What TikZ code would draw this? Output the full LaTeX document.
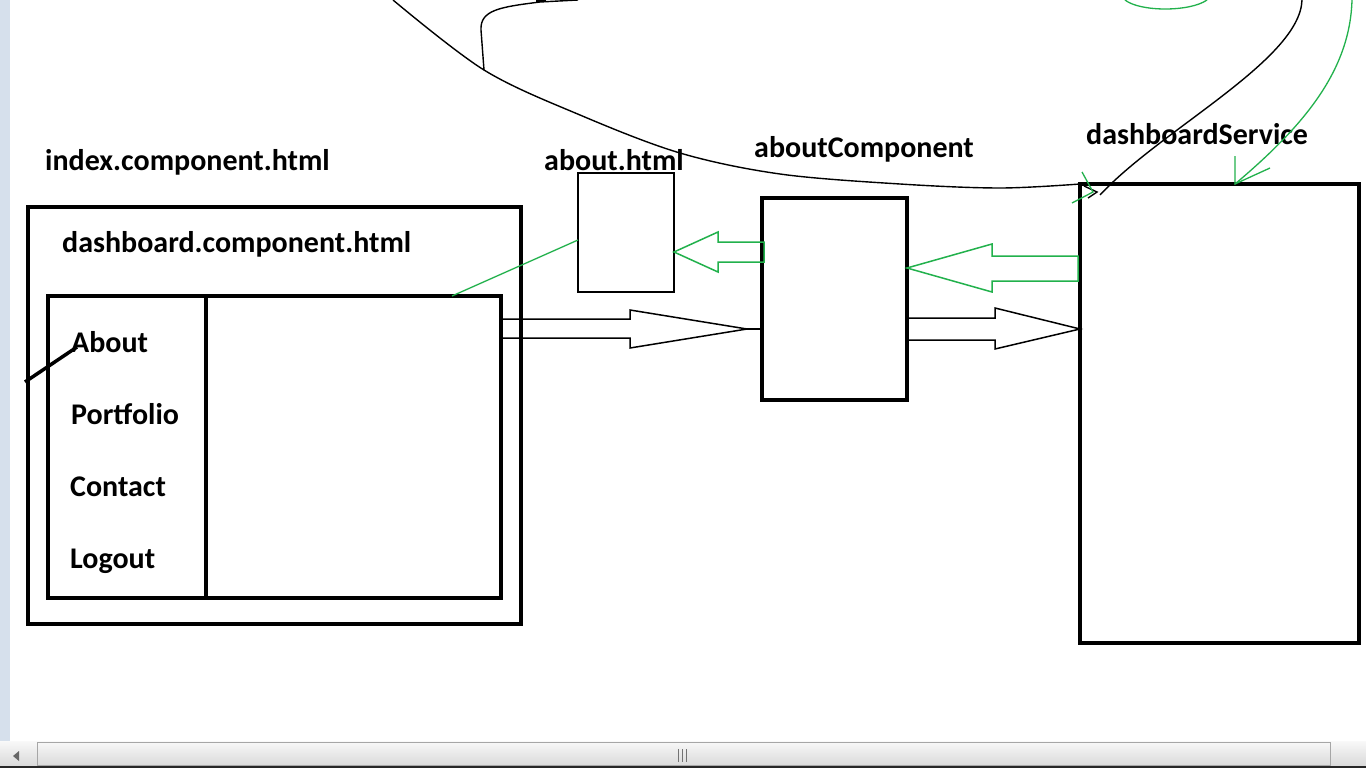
\documentclass[tikz,border=0pt]{standalone}
\usepackage{fontspec}
\setmainfont{Carlito}
\definecolor{pgreen}{HTML}{22B14C}
\definecolor{sidebar}{HTML}{D6E0EC}
\begin{document}
\begin{tikzpicture}[x=1pt,y=-1pt,
  thickbox/.style={draw, line width=4pt, inner sep=0pt, outer sep=0pt},
  thinbox/.style={draw, line width=1.5pt, inner sep=0pt, outer sep=0pt},
  lbl/.style={anchor=base west, inner sep=0pt, font=\fontsize{30}{33}\selectfont\bfseries},
  gline/.style={draw=pgreen, line width=1.3pt},
  bline/.style={draw=black, line width=1.4pt},
  blockarrow/.style={line width=1.5pt, line join=miter}]
\useasboundingbox (0,0) rectangle (1366,768);
\fill[white] (0,0) rectangle (1366,768);
% side strip
\fill[sidebar] (0,0) rectangle (10,741);
% scrollbar
\shade[top color=white!95!gray, bottom color=black!15] (0,741) rectangle (1366,766);
\draw[black!35, line width=0.8pt] (37,742) rectangle (1330,765);
\fill[black!85] (0,766) rectangle (1366,768);
\fill[black!60] (13,756) -- (19,751) -- (19,761) -- cycle;
\foreach \xx in {678,682,686} \draw[black!55, line width=1pt] (\xx,749) -- (\xx,762);

% boxes
\node[thickbox, minimum width=493pt, minimum height=417pt] (index) at (274.5,415.5) {};
\node[thickbox, minimum width=158pt, minimum height=302pt] (menu) at (127,447) {};
\node[thickbox, minimum width=295pt, minimum height=302pt] (content) at (353.5,447) {};
\node[thinbox, minimum width=96pt, minimum height=119pt] (about) at (626,232.5) {};
\node[thickbox, minimum width=145pt, minimum height=202pt] (ac) at (834.5,299) {};
\node[thickbox, minimum width=279pt, minimum height=459pt] (ds) at (1219.5,413.5) {};

% labels
\node[lbl] (tindex) at (45,170) {index.component.html};
\node[lbl] (tdash) at (62,252) {dashboard.component.html};
\node[lbl] (tabout) at (71,352) {About};
\node[lbl] (tport) at (71,424) {Portfolio};
\node[lbl] (tcont) at (70,496) {Contact};
\node[lbl] (tlog) at (70,568) {Logout};
\node[lbl] (tah) at (544,170) {about.html};
\node[lbl] (tac) at (754,157) {aboutComponent};
\node[lbl] (tds) at (1086,144) {dashboardService};

% slash mark at About
\draw[line width=3.5pt] (25,382) -- (77,347);

% green line from content to about.html
\draw[gline] ([xshift=98.5pt]content.north) -- ([yshift=-7.5pt]about.west);

% hollow block arrows
\draw[pgreen, blockarrow] (764,242) -- (718,242) -- (718,232) -- (about.east |- 0,252) -- (718,272) -- (718,262) -- (764,262) -- cycle;
\draw[pgreen, blockarrow] (1078,256) -- (992,256) -- (992,244) -- (ac.east |- 0,268) -- (992,292) -- (992,281) -- (1078,281) -- cycle;
\draw[black, blockarrow] (content.east |- 0,319) -- (630,319) -- (630,310) -- (747,329) -- (630,348) -- (630,338) -- (content.east |- 0,338);
\draw[black, blockarrow] (747,329) -- (ac.west |- 0,329);
\draw[black, blockarrow] (ac.east |- 0,318) -- (995,318) -- (995,308) -- (ds.west |- 0,329) -- (995,349) -- (995,340) -- (ac.east |- 0,340);

% black curves at top
\coordinate (c0) at (393,0);
\coordinate (cb) at (484,70);
\draw[bline] plot[smooth, tension=0.55] coordinates {(c0) (cb) (580,115) (680,153) (780,174) (900,184) (1000,188) (ds.north west)};
\draw[bline] (cb) -- (481,30) .. controls (480,10) and (500,7) .. (540,2) -- (578,0);
\draw[black, line width=3pt] (536,1) -- (546,1);
\coordinate (c1) at (1302,0);
\draw[bline] (c1) .. controls (1300,60) and (1160,130) .. (1100,195);
\draw[bline] (1084,186) -- (1097,192) -- (1088,198);

% green curves at top
\coordinate (g0) at (1352,0);
\draw[gline] (g0) .. controls (1350,70) and (1305,125) .. ([xshift=15.5pt]ds.north);
\draw[gline] (1235,156) -- ([xshift=15.5pt]ds.north) -- (1270,168);
\draw[gline] (1125,0) .. controls (1140,12) and (1190,12) .. (1207,0);
\draw[gline] (1082,172) -- (1093,192) -- (1072,203);
\end{tikzpicture}
\end{document}
